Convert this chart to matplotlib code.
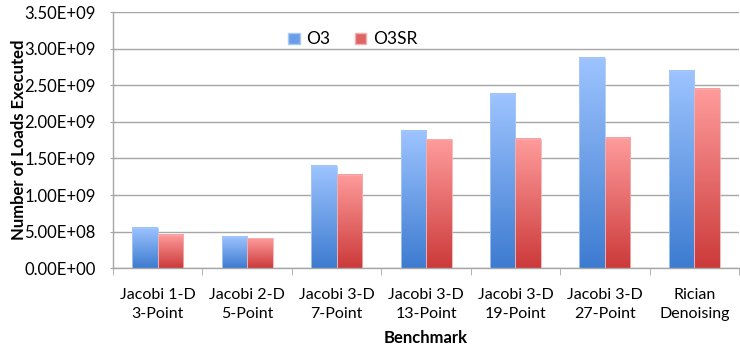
import numpy as np
import matplotlib.pyplot as plt
from matplotlib.colors import LinearSegmentedColormap
from matplotlib.patches import Patch
from matplotlib.ticker import FuncFormatter, FixedLocator

plt.rcParams['font.family'] = ['Lato', 'DejaVu Sans']

benchmarks = ["Jacobi 1-D\n3-Point", "Jacobi 2-D\n5-Point", "Jacobi 3-D\n7-Point",
              "Jacobi 3-D\n13-Point", "Jacobi 3-D\n19-Point", "Jacobi 3-D\n27-Point",
              "Rician\nDenoising"]
o3 = [0.548e9, 0.426e9, 1.40e9, 1.88e9, 2.38e9, 2.87e9, 2.70e9]
o3sr = [0.454e9, 0.409e9, 1.28e9, 1.76e9, 1.77e9, 1.785e9, 2.45e9]

blue_map = LinearSegmentedColormap.from_list("blue", ["#3d7bd0", "#9dc4ff"])
red_map = LinearSegmentedColormap.from_list("red", ["#cc3a3a", "#ff9c9c"])

fig = plt.figure(figsize=(7.4, 3.47), dpi=100)
ax = fig.add_axes([0.1527, 0.2268, 0.846, 0.7386])

x = np.arange(len(benchmarks))
w = 0.285
grad = np.linspace(0, 1, 256).reshape(-1, 1)

def gradient_bars(xs, vals, cmap, edge):
    bars = ax.bar(xs, vals, w, color="none", edgecolor=edge, linewidth=0.6, zorder=3)
    for b in bars:
        x0 = b.get_x()
        h = b.get_height()
        ax.imshow(grad, extent=[x0, x0 + w, 0, h], origin="lower", aspect="auto",
                  cmap=cmap, zorder=2, interpolation="bilinear")
    return bars

gradient_bars(x - w / 2, o3, blue_map, "#a9c9f5")
gradient_bars(x + w / 2, o3sr, red_map, "#f2b0b0")

ax.set_xlim(-0.5, len(benchmarks) - 0.5)
ax.set_ylim(0, 3.5e9)

ax.set_yticks(np.arange(0, 3.51e9, 0.5e9))
ax.yaxis.set_major_formatter(FuncFormatter(lambda v, p: "%.2E" % v))
ax.yaxis.grid(True, color="#a6a6a6", linewidth=1.0, zorder=0)
ax.set_axisbelow(True)

ax.set_xticks(x)
ax.set_xticklabels(benchmarks, linespacing=1.5)
ax.xaxis.set_minor_locator(FixedLocator(np.arange(-0.5, len(benchmarks), 1.0)))
ax.tick_params(axis="x", which="major", length=0, pad=14, labelsize=11.5)
ax.tick_params(axis="x", which="minor", length=5, color="#a6a6a6", direction="out")
ax.tick_params(axis="y", length=5, color="#a6a6a6", direction="inout", pad=10, labelsize=12)

for s in ["top", "right"]:
    ax.spines[s].set_visible(False)
for s in ["left", "bottom"]:
    ax.spines[s].set_color("#a6a6a6")
    ax.spines[s].set_linewidth(1.0)

ax.set_xlabel("Benchmark", fontweight="bold", fontsize=12, labelpad=6)
ax.set_ylabel("Number of Loads Executed", fontweight="bold", fontsize=12, labelpad=-2)

handles = [Patch(facecolor="#6a9ee6", edgecolor="#a9c9f5", label="O3"),
           Patch(facecolor="#e06464", edgecolor="#f2b0b0", label="O3SR")]
ax.legend(handles=handles, loc="upper left", bbox_to_anchor=(0.255, 0.985), ncol=2,
          frameon=False, fontsize=12.5, handlelength=0.65, handleheight=0.65,
          handletextpad=0.4, columnspacing=1.4)

fig.savefig("out.png", dpi=100)
